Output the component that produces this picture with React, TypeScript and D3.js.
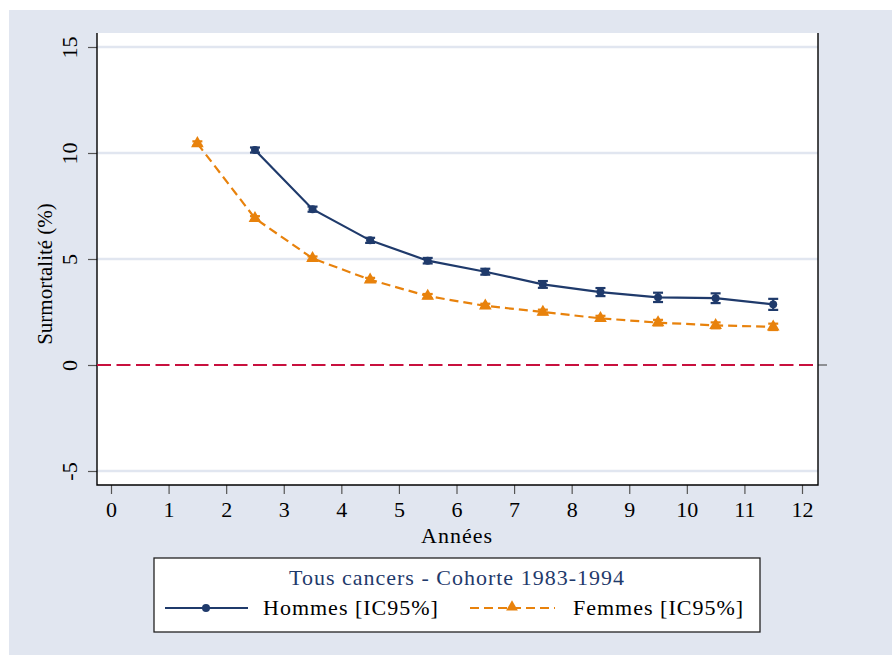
import * as d3 from 'd3';
import { useEffect, useRef } from 'react';

// years since diagnosis (mid-interval)
const hommesYears = [2.5, 3.5, 4.5, 5.5, 6.5, 7.5, 8.5, 9.5, 10.5, 11.5];
const hommes = [10.14, 7.35, 5.88, 4.92, 4.4, 3.8, 3.44, 3.19, 3.15, 2.86];
const hommesLo = [10.02, 7.23, 5.76, 4.79, 4.26, 3.64, 3.25, 2.97, 2.92, 2.6];
const hommesHi = [10.26, 7.47, 6.0, 5.05, 4.54, 3.96, 3.63, 3.41, 3.38, 3.12];

const femmesYears = [1.5, 2.5, 3.5, 4.5, 5.5, 6.5, 7.5, 8.5, 9.5, 10.5, 11.5];
const femmes = [10.45, 6.92, 5.03, 4.02, 3.25, 2.79, 2.5, 2.2, 2.0, 1.87, 1.8];
const femmesLo = [10.35, 6.82, 4.94, 3.93, 3.15, 2.69, 2.39, 2.08, 1.87, 1.73, 1.65];
const femmesHi = [10.55, 7.02, 5.12, 4.11, 3.35, 2.89, 2.61, 2.32, 2.13, 2.01, 1.95];

const xTicks = [0, 1, 2, 3, 4, 5, 6, 7, 8, 9, 10, 11, 12];
const yTicks = [-5, 0, 5, 10, 15];
const gridValues = [-5, 5, 10, 15];

const legendTitle = 'Tous cancers - Cohorte 1983-1994';
const seriesNames = ['Hommes [IC95%]', 'Femmes [IC95%]'];

const W = 892;
const H = 655;
const plot = { left: 97, right: 818, top: 33, bottom: 485 };
const navy = '#1f3a6b';
const orange = '#e8820c';
const red = '#c8103e';
const bg = '#e1e6f0';
const font = '"Liberation Serif", "Times New Roman", serif';

export default function App() {
  const svgRef = useRef(null);

  useEffect(() => {
    const svg = d3.select(svgRef.current);
    svg.selectAll('*').remove();

    const x = d3.scaleLinear().domain([0, 12]).range([111, 802]);
    const y = d3.scaleLinear().domain([-5, 15]).range([471, 47]);

    // backgrounds
    svg.append('rect').attr('x', 9).attr('y', 10).attr('width', W - 9).attr('height', H - 10).attr('fill', bg);
    svg
      .append('rect')
      .attr('x', plot.left)
      .attr('y', plot.top)
      .attr('width', plot.right - plot.left)
      .attr('height', plot.bottom - plot.top)
      .attr('fill', '#fff');

    // grid
    svg
      .append('g')
      .selectAll('line')
      .data(gridValues)
      .enter()
      .append('line')
      .attr('x1', plot.left)
      .attr('x2', plot.right)
      .attr('y1', (d) => y(d))
      .attr('y2', (d) => y(d))
      .attr('stroke', bg)
      .attr('stroke-width', 2.5);

    // y axis
    const yAxis = svg
      .append('g')
      .attr('transform', 'translate(' + plot.left + ',0)')
      .call(
        d3
          .axisLeft(y)
          .tickValues(yTicks)
          .tickSize(9)
          .tickPadding(0)
          .tickFormat((d) => String(d))
      );
    yAxis.select('.domain').remove();
    yAxis.selectAll('.tick line').attr('stroke', '#555').attr('stroke-width', 1.2);
    yAxis
      .selectAll('.tick text')
      .attr('x', 0)
      .attr('y', 0)
      .attr('text-anchor', 'middle')
      .attr('dy', null)
      .attr('transform', 'translate(-20,0) rotate(-90)')
      .style('font-family', font)
      .style('font-size', '22px')
      .attr('fill', '#000');

    // x axis
    const xAxis = svg
      .append('g')
      .attr('transform', 'translate(0,' + plot.bottom + ')')
      .call(d3.axisBottom(x).tickValues(xTicks).tickSize(9).tickPadding(7));
    xAxis.select('.domain').remove();
    xAxis.selectAll('.tick line').attr('stroke', '#555').attr('stroke-width', 1.2);
    xAxis
      .selectAll('.tick text')
      .style('font-family', font)
      .style('font-size', '22px')
      .attr('fill', '#000');

    // extra tick on the right at 0
    svg
      .append('line')
      .attr('x1', plot.right)
      .attr('x2', plot.right + 9)
      .attr('y1', y(0))
      .attr('y2', y(0))
      .attr('stroke', '#555')
      .attr('stroke-width', 1.2);

    // frame
    const frame = d3.path();
    frame.moveTo(plot.left, plot.top);
    frame.lineTo(plot.left, plot.bottom);
    frame.lineTo(plot.right, plot.bottom);
    frame.lineTo(plot.right, plot.top);
    svg.append('path').attr('d', frame.toString()).attr('fill', 'none').attr('stroke', '#000').attr('stroke-width', 1.4);

    // axis titles
    svg
      .append('text')
      .attr('x', 457)
      .attr('y', 543)
      .attr('text-anchor', 'middle')
      .style('font-family', font)
      .style('font-size', '22px')
      .style('letter-spacing', '1px')
      .text('Années');
    svg
      .append('text')
      .attr('text-anchor', 'middle')
      .attr('transform', 'translate(52,274) rotate(-90)')
      .style('font-family', font)
      .style('font-size', '21px')
      .text('Surmortalité (%)');

    // zero line
    svg
      .append('line')
      .attr('x1', plot.left)
      .attr('x2', plot.right)
      .attr('y1', y(0))
      .attr('y2', y(0))
      .attr('stroke', red)
      .attr('stroke-width', 2)
      .attr('stroke-dasharray', '14,5.5');

    const line = d3
      .line<number>()
      .x((d) => x(d[0]))
      .y((d) => y(d[1]));

    const drawSeries = (
      xs: number[],
      vs: number[],
      lo: number[],
      hi: number[],
      color: string,
      dash: string | null,
      marker: 'circle' | 'triangle'
    ) => {
      const pts = xs.map((v, i) => [v, vs[i]]);
      svg
        .append('path')
        .datum(pts)
        .attr('d', line as any)
        .attr('fill', 'none')
        .attr('stroke', color)
        .attr('stroke-width', 2.2)
        .attr('stroke-dasharray', dash);

      const eb = svg.append('g').attr('stroke', color).attr('stroke-width', 2.2);
      xs.forEach((v, i) => {
        const cx = x(v);
        eb.append('line').attr('x1', cx).attr('x2', cx).attr('y1', y(lo[i])).attr('y2', y(hi[i]));
        eb.append('line').attr('x1', cx - 5).attr('x2', cx + 5).attr('y1', y(lo[i])).attr('y2', y(lo[i]));
        eb.append('line').attr('x1', cx - 5).attr('x2', cx + 5).attr('y1', y(hi[i])).attr('y2', y(hi[i]));
      });

      const sym = d3
        .symbol()
        .type(marker === 'circle' ? d3.symbolCircle : d3.symbolTriangle)
        .size(marker === 'circle' ? 50 : 70);
      svg
        .append('g')
        .selectAll('path')
        .data(pts)
        .enter()
        .append('path')
        .attr('d', sym as any)
        .attr('transform', (d) => 'translate(' + x(d[0]) + ',' + y(d[1]) + ')')
        .attr('fill', color);
    };

    drawSeries(femmesYears, femmes, femmesLo, femmesHi, orange, '9,5', 'triangle');
    drawSeries(hommesYears, hommes, hommesLo, hommesHi, navy, null, 'circle');

    // legend
    const lg = svg.append('g');
    lg.append('rect')
      .attr('x', 154)
      .attr('y', 558)
      .attr('width', 606)
      .attr('height', 74)
      .attr('fill', '#fff')
      .attr('stroke', '#222')
      .attr('stroke-width', 1.3);
    lg.append('text')
      .attr('x', 457)
      .attr('y', 585)
      .attr('text-anchor', 'middle')
      .attr('fill', navy)
      .style('font-family', font)
      .style('font-size', '22px')
      .style('letter-spacing', '1px')
      .text(legendTitle);

    lg.append('line').attr('x1', 165).attr('x2', 248).attr('y1', 608).attr('y2', 608).attr('stroke', navy).attr('stroke-width', 2.2);
    lg.append('circle').attr('cx', 206).attr('cy', 608).attr('r', 4).attr('fill', navy);
    lg.append('text')
      .attr('x', 263)
      .attr('y', 615)
      .style('font-family', font)
      .style('font-size', '22px')
      .style('letter-spacing', '1px')
      .text(seriesNames[0]);

    lg.append('line')
      .attr('x1', 470)
      .attr('x2', 555)
      .attr('y1', 608)
      .attr('y2', 608)
      .attr('stroke', orange)
      .attr('stroke-width', 2.2)
      .attr('stroke-dasharray', '9,5');
    lg.append('path')
      .attr('d', d3.symbol().type(d3.symbolTriangle).size(60)() as string)
      .attr('transform', 'translate(512,607)')
      .attr('fill', orange);
    lg.append('text')
      .attr('x', 573)
      .attr('y', 615)
      .style('font-family', font)
      .style('font-size', '22px')
      .style('letter-spacing', '1px')
      .text(seriesNames[1]);
  }, []);

  return (
    <div style={{ position: 'fixed', left: 0, top: 0, width: W, height: H, background: '#fff' }}>
      <svg ref={svgRef} width={W} height={H} style={{ display: 'block' }}></svg>
    </div>
  );
}
